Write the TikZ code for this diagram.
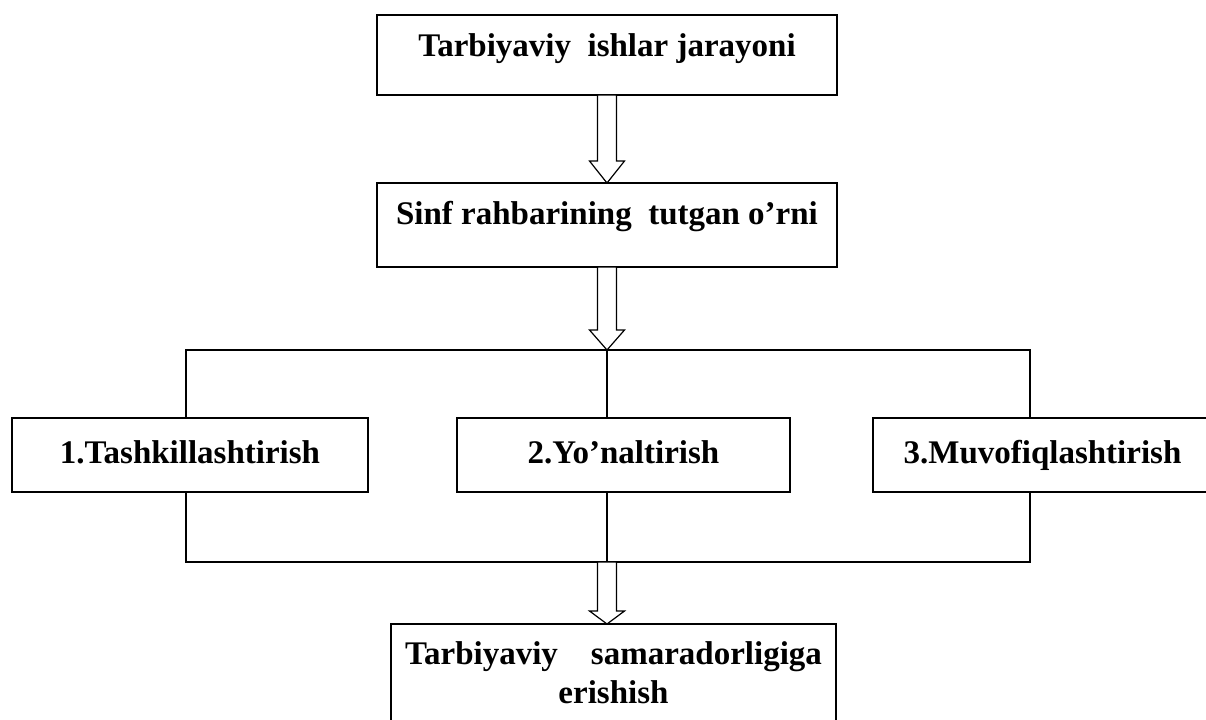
\documentclass[tikz,border=0pt]{standalone}
\usepackage{fontspec}
\setmainfont{Liberation Serif}
\usetikzlibrary{calc}

\newcommand{\hollowarrow}[3]{\draw[hollow] ($(#1)+(-9.5,0)$) -- ($(#2)+(-9.5,-#3)$) -- ($(#2)+(-17.5,-#3)$) -- (#2) -- ($(#2)+(17.5,-#3)$) -- ($(#2)+(9.5,-#3)$) -- ($(#1)+(9.5,0)$) -- cycle;}

\begin{document}
\begin{tikzpicture}[x=0.5pt, y=-0.5pt, font=\fontsize{16.5}{19.5}\selectfont\bfseries,
  every node/.style={draw, line width=0.6pt, inner sep=0pt, outer sep=0pt, anchor=north},
  link/.style={line width=0.6pt},
  hollow/.style={draw, fill=white, line width=0.6pt, line join=miter}]
\useasboundingbox (0,0) rectangle (1206,719);

\node[minimum width=230pt, text height=20.5pt, text depth=19.5pt] (work) at (607,15) {Tarbiyaviy\ \ ishlar jarayoni};
\node[minimum width=230pt, text height=20.5pt, text depth=21.5pt] (role) at (607,183) {Sinf rahbarining\ \ tutgan o’rni};

\node[minimum width=178pt, text height=22.5pt, text depth=14.5pt] (org) at (190,418) {1.Tashkillashtirish};
\node[minimum width=166.5pt, text height=22.5pt, text depth=14.5pt] (dir) at (623.5,418) {2.Yo’naltirish};
\node[minimum width=169.5pt, text height=22.5pt, text depth=14.5pt] (coord) at (1042.5,418) {3.Muvofiqlashtirish};

\node[text width=222.5pt, align=center, text height=20pt, text depth=35pt] (res) at (613.5,624) {Tarbiyaviy\ \ \ samaradorligiga\\ erishish};

\coordinate (jUp) at (607,350);
\coordinate (uL) at (186,350);
\coordinate (uR) at (1030,350);
\coordinate (jDown) at (607,562);
\coordinate (dL) at (186,562);
\coordinate (dR) at (1030,562);
\coordinate (resIn) at (jDown |- res.north);

\draw[link] (org.north -| uL) -- (uL) -- (uR) -- (coord.north -| uR);
\draw[link] (jUp) -- (dir.north -| jUp);
\draw[link] (org.south -| dL) -- (dL) -- (dR) -- (coord.south -| dR);
\draw[link] (dir.south -| jDown) -- (jDown);

\hollowarrow{work.south}{role.north}{22}
\hollowarrow{role.south}{jUp}{20}
\hollowarrow{jDown}{resIn}{13}
\end{tikzpicture}
\end{document}
